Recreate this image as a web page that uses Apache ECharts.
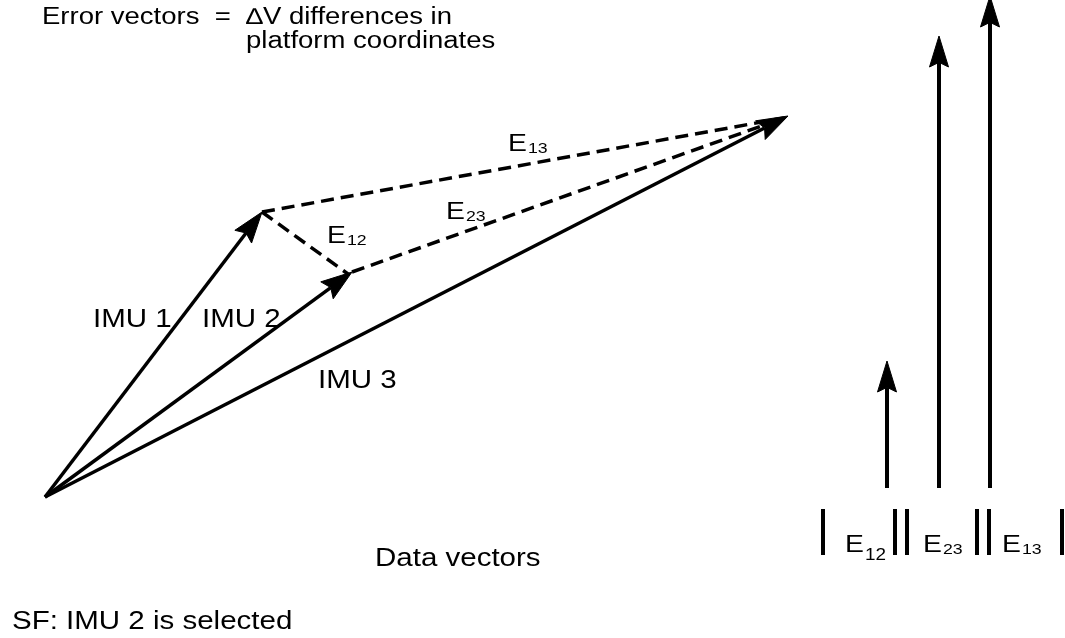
<!DOCTYPE html>
<html>
<head>
<meta charset="utf-8">
<script src="https://cdn.jsdelivr.net/npm/echarts@6/dist/echarts.min.js"></script>
<style>
  html, body { margin: 0; padding: 0; background: #ffffff; }
  #chart { width: 1065px; height: 638px; }
</style>
</head>
<body>
<div id="chart"></div>
<script>
// ---- Diagram data (diagram coordinates, y grows downward) ----
const origin = [45, 497];
const imuNames = ['IMU 1', 'IMU 2', 'IMU 3'];
const imuTipX = [262, 352, 788];
const imuTipY = [212, 272, 116];

const errorNames = ['E12', 'E23', 'E13'];
const errorFrom = [0, 1, 0];   // index into IMU tips
const errorTo = [1, 2, 2];

const magnitudeX = [887, 939, 990];
const magnitudeBase = 488;
const magnitudeTop = [361, 36, -4];

const normBarX = [823, 895, 907, 977, 989, 1062];
const normBarTop = 509;
const normBarBottom = 555;

// ---- Build series data from the arrays ----
const imuData = imuNames.map((n, i) => ({ name: n, value: [origin[0], origin[1], imuTipX[i], imuTipY[i]] }));
const errData = errorNames.map((n, i) => ({
  name: n,
  value: [imuTipX[errorFrom[i]], imuTipY[errorFrom[i]], imuTipX[errorTo[i]] - 4, imuTipY[errorTo[i]] + 2]
}));
const magData = errorNames.map((n, i) => ({ name: '|' + n + '|', value: [magnitudeX[i], magnitudeBase, magnitudeX[i], magnitudeTop[i]] }));
const barData = normBarX.map(x => [x, normBarTop, x, normBarBottom]);

function makeArrow(lineWidth, headL, headW) {
  return function (params, api) {
    const p1 = api.coord([api.value(0), api.value(1)]);
    const p2 = api.coord([api.value(2), api.value(3)]);
    const dx = p2[0] - p1[0], dy = p2[1] - p1[1];
    const len = Math.hypot(dx, dy);
    const ux = dx / len, uy = dy / len;
    const nx = -uy, ny = ux;
    const bx = p2[0] - ux * headL, by = p2[1] - uy * headL;
    const notch = [p2[0] - ux * headL * 0.85, p2[1] - uy * headL * 0.85];
    return {
      type: 'group',
      children: [
        { type: 'line', shape: { x1: p1[0], y1: p1[1], x2: notch[0], y2: notch[1] },
          style: { stroke: '#000', lineWidth: lineWidth } },
        { type: 'polygon', shape: { points: [p2, [bx + nx * headW / 2, by + ny * headW / 2], notch, [bx - nx * headW / 2, by - ny * headW / 2]] },
          style: { fill: '#000', stroke: '#000', lineWidth: 1, lineJoin: 'miter' } }
      ]
    };
  };
}
function makeLine(lineWidth, dash) {
  return function (params, api) {
    const p1 = api.coord([api.value(0), api.value(1)]);
    const p2 = api.coord([api.value(2), api.value(3)]);
    return { type: 'line', shape: { x1: p1[0], y1: p1[1], x2: p2[0], y2: p2[1] },
      style: { stroke: '#000', lineWidth: lineWidth, lineDash: dash } };
  };
}

const FONT = "'Liberation Sans', Arial, Helvetica, sans-serif";
const SX = 1.18;
function txt(text, x, y, size, sx) {
  return { type: 'text', x: x, y: y, scaleX: sx || SX,
    style: { text: text, fontFamily: FONT, fontSize: size, fill: '#000', align: 'left', verticalAlign: 'middle' } };
}
function eLabel(sub, x, y, big, small, subDy) {
  return [
    txt('E', x, y, big),
    txt(sub, x + big * 0.667 * SX + 1, y + (subDy || 0) + big * 0.2, small)
  ];
}

// Heading: second line is indented to start under the "ΔV" of the first line
const headLead = 'Error vectors  =  ';
const headLine1 = headLead + '\u2206V differences in';
const headLine2 = 'platform coordinates';
const measureCtx = document.createElement('canvas').getContext('2d');
measureCtx.font = '23px ' + FONT;
const headScale = 410 / measureCtx.measureText(headLine1).width;
const headIndent = 42 + measureCtx.measureText(headLead).width * headScale;

const graphics = [
  txt(headLine1, 42, 18, 23, headScale),
  txt(headLine2, headIndent, 42, 23, headScale),
  txt('IMU 1', 93, 320, 25),
  txt('IMU 2', 202, 320, 25),
  txt('IMU 3', 318, 381, 25),
  txt('Data vectors', 375, 559, 25),
  txt('SF: IMU 2 is selected', 12, 622, 25)
]
  .concat(eLabel('13', 508, 144, 24, 15))
  .concat(eLabel('23', 446, 212, 24, 15))
  .concat(eLabel('12', 327, 236, 24, 15))
  .concat(eLabel('12', 845, 545, 24, 16, 6))
  .concat(eLabel('23', 923, 545, 24, 15))
  .concat(eLabel('13', 1002, 545, 24, 15));

const chart = echarts.init(document.getElementById('chart'), null, { renderer: 'canvas' });
chart.setOption({
  animation: false,
  backgroundColor: '#ffffff',
  grid: { left: 0, right: 0, top: 0, bottom: 0 },
  xAxis: { type: 'value', min: 0, max: 1065, show: false },
  yAxis: { type: 'value', min: 0, max: 638, inverse: true, show: false },
  graphic: graphics,
  series: [
    { type: 'custom', name: 'Error vectors', coordinateSystem: 'cartesian2d', clip: false,
      renderItem: makeLine(3.5, [13, 7]), encode: { x: [0, 2], y: [1, 3] }, data: errData, z: 2 },
    { type: 'custom', name: 'Data vectors', coordinateSystem: 'cartesian2d', clip: false,
      renderItem: makeArrow(3.5, 31, 21), encode: { x: [0, 2], y: [1, 3] }, data: imuData, z: 3 },
    { type: 'custom', name: 'Error magnitudes', coordinateSystem: 'cartesian2d', clip: false,
      renderItem: makeArrow(4, 31, 19), encode: { x: [0, 2], y: [1, 3] }, data: magData, z: 3 },
    { type: 'custom', name: 'Norm bars', coordinateSystem: 'cartesian2d', clip: false,
      renderItem: makeLine(4, null), encode: { x: [0, 2], y: [1, 3] }, data: barData, z: 3 }
  ]
});
</script>
</body>
</html>
